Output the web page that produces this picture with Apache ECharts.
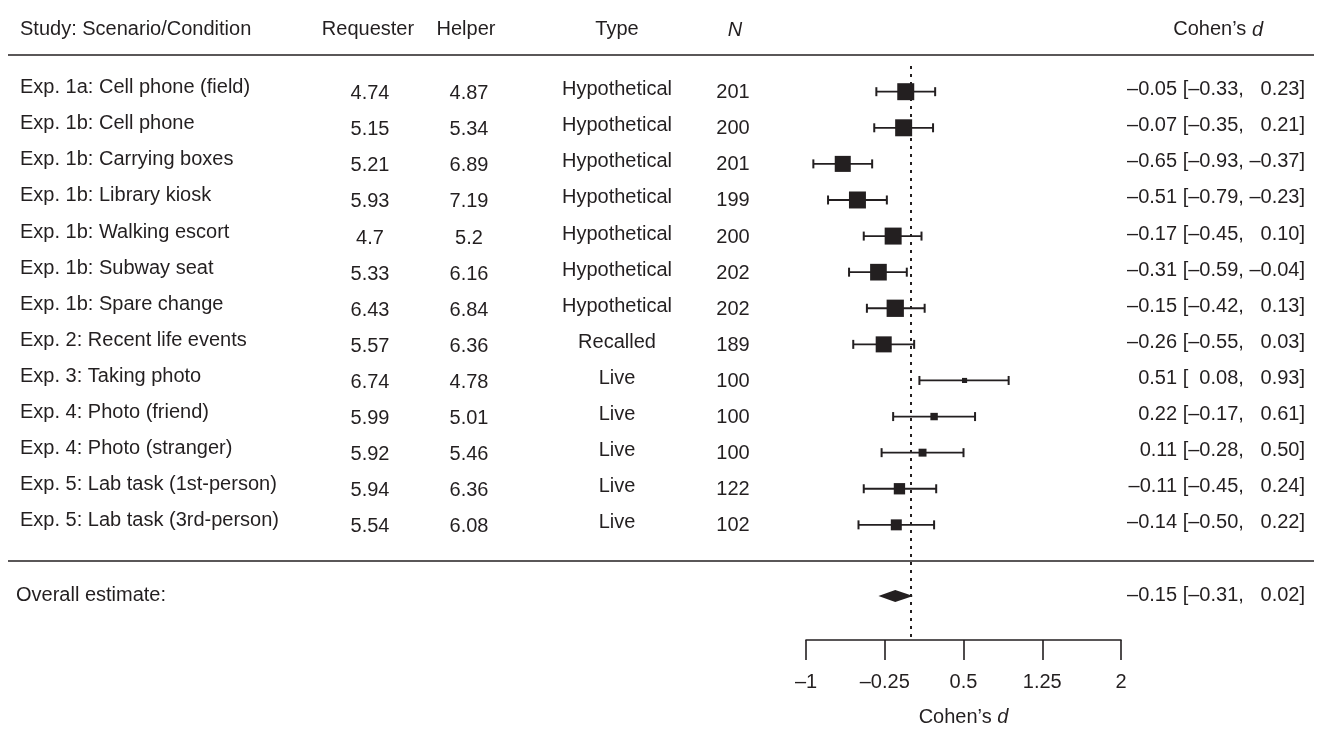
<!DOCTYPE html>
<html>
<head>
<meta charset="utf-8">
<script src="https://cdn.jsdelivr.net/npm/echarts@6/dist/echarts.min.js"></script>
<style>
  html, body { margin: 0; padding: 0; background: #fff; }
  #chart { width: 1322px; height: 732px; }
</style>
</head>
<body>
<div id="chart"></div>
<script>
  // table columns
  const studies = [
    'Exp. 1a: Cell phone (field)', 'Exp. 1b: Cell phone', 'Exp. 1b: Carrying boxes',
    'Exp. 1b: Library kiosk', 'Exp. 1b: Walking escort', 'Exp. 1b: Subway seat',
    'Exp. 1b: Spare change', 'Exp. 2: Recent life events', 'Exp. 3: Taking photo',
    'Exp. 4: Photo (friend)', 'Exp. 4: Photo (stranger)', 'Exp. 5: Lab task (1st-person)',
    'Exp. 5: Lab task (3rd-person)'
  ]
  const requester = [4.74, 5.15, 5.21, 5.93, 4.7, 5.33, 6.43, 5.57, 6.74, 5.99, 5.92, 5.94, 5.54]
  const helper = [4.87, 5.34, 6.89, 7.19, 5.2, 6.16, 6.84, 6.36, 4.78, 5.01, 5.46, 6.36, 6.08]
  const types = ['Hypothetical', 'Hypothetical', 'Hypothetical', 'Hypothetical', 'Hypothetical',
    'Hypothetical', 'Hypothetical', 'Recalled', 'Live', 'Live', 'Live', 'Live', 'Live']
  const ns = [201, 200, 201, 199, 200, 202, 202, 189, 100, 100, 100, 122, 102]

  // effect sizes
  const dEst = [-0.05, -0.07, -0.65, -0.51, -0.17, -0.31, -0.15, -0.26, 0.51, 0.22, 0.11, -0.11, -0.14]
  const dLo = [-0.33, -0.35, -0.93, -0.79, -0.45, -0.59, -0.42, -0.55, 0.08, -0.17, -0.28, -0.45, -0.50]
  const dHi = [0.23, 0.21, -0.37, -0.23, 0.10, -0.04, 0.13, 0.03, 0.93, 0.61, 0.50, 0.24, 0.22]
  // study weights (%), read from the square areas
  const weights = [11.0, 11.0, 9.8, 11.0, 11.0, 10.6, 11.4, 9.8, 1.0, 2.1, 2.4, 4.9, 4.6]
  const overall = [-0.15, -0.31, 0.02] // estimate, lower, upper
  const axisTicks = [-1, -0.25, 0.5, 1.25, 2]

  const FONT = '"Liberation Sans", Arial, sans-serif'
  const INK = '#231f20'
  const FS = 20

  // row layout (in row units on the y axes)
  const HEADER_ROW = -1.71
  const HEADER_LINE = -1.03
  const DIVIDER = 12.99
  const OVERALL_ROW = 13.97

  // column x positions (page pixels on the table grid)
  const COL = { study: 20, req: 370, helper: 469, type: 617, n: 733, d: 1305, dHead: 1263 }

  const minus = s => String(s).replace('-', '–')
  // positive numbers get an invisible dash so the columns line up
  const num = (v, pad) => (v < 0 ? '–' : (pad ? '{h|–}' : '')) + Math.abs(v).toFixed(2)
  const ciText = (est, lo, hi) => num(est, false) + ' [' + num(lo, true) + ', ' + num(hi, true) + ']'

  function textSeries(items, align, dy, extra) {
    return {
      type: 'scatter',
      xAxisIndex: 0,
      yAxisIndex: 0,
      symbolSize: 0,
      silent: true,
      clip: false,
      itemStyle: { opacity: 1 },
      data: items.map(it => ({ value: [it[0], it[1]], name: it[2] })),
      label: Object.assign({
        show: true,
        position: 'inside',
        align: align,
        verticalAlign: 'middle',
        offset: [0, dy],
        formatter: p => p.name,
        color: INK,
        opacity: 1,
        fontFamily: FONT,
        fontSize: FS,
        rich: { h: { color: 'rgba(0,0,0,0)', fontFamily: FONT, fontSize: FS } }
      }, extra || {})
    }
  }

  const rows = studies.map((s, i) => i)
  const rich = {
    a: { fontFamily: FONT, fontSize: FS, color: INK },
    b: { fontFamily: FONT, fontSize: FS, color: INK, fontStyle: 'italic' }
  }

  const chart = echarts.init(document.getElementById('chart'))
  chart.setOption({
    animation: false,
    backgroundColor: '#fff',
    grid: [
      { left: 0, right: 0, top: 1.45, bottom: 92 },
      { left: 806, right: 201, top: 1.45, bottom: 92 }
    ],
    xAxis: [
      { gridIndex: 0, type: 'value', min: 0, max: 1322, show: false },
      {
        gridIndex: 1, type: 'value', min: -1, max: 2,
        splitLine: { show: false },
        axisLine: { show: true, onZero: false, lineStyle: { color: INK, width: 1.6 } },
        axisTick: { show: true, length: 20, customValues: axisTicks, lineStyle: { color: INK, width: 1.6 } },
        axisLabel: {
          customValues: axisTicks, margin: 32, color: INK, fontFamily: FONT, fontSize: FS,
          formatter: v => minus(v)
        },
        name: '{a|Cohen’s }{b|d}',
        nameLocation: 'middle',
        nameGap: 67,
        nameTextStyle: { rich: rich }
      }
    ],
    yAxis: [
      { gridIndex: 0, type: 'value', min: -2.5, max: 15.19, inverse: true, show: false },
      { gridIndex: 1, type: 'value', min: -2.5, max: 15.19, inverse: true, show: false }
    ],
    series: [
      // header
      textSeries([[COL.study, HEADER_ROW, 'Study: Scenario/Condition']], 'left', 0),
      textSeries([[COL.req - 2, HEADER_ROW, 'Requester'], [COL.helper - 3, HEADER_ROW, 'Helper'],
        [COL.type, HEADER_ROW, 'Type']], 'center', 0),
      textSeries([[COL.n + 2, HEADER_ROW, 'N']], 'center', 0, { fontStyle: 'italic' }),
      textSeries([[COL.dHead, HEADER_ROW, '']], 'right', 0, {
        formatter: '{a|Cohen’s }{b|d}',
        rich: rich
      }),
      // table body
      textSeries(rows.map(i => [COL.study, i, studies[i]]), 'left', -4),
      textSeries(rows.map(i => [COL.req, i, String(requester[i])]), 'center', 2),
      textSeries(rows.map(i => [COL.helper, i, String(helper[i])]), 'center', 2),
      textSeries(rows.map(i => [COL.type, i, types[i]]), 'center', -2),
      textSeries(rows.map(i => [COL.n, i, String(ns[i])]), 'center', 1),
      textSeries(rows.map(i => [COL.d, i, ciText(dEst[i], dLo[i], dHi[i])]), 'right', -2),
      // overall row
      textSeries([[COL.study - 4, OVERALL_ROW, 'Overall estimate:']], 'left', 0),
      textSeries([[COL.d, OVERALL_ROW, ciText(overall[0], overall[1], overall[2])]], 'right', 0),
      // rules
      {
        type: 'line', xAxisIndex: 0, yAxisIndex: 0, data: [], silent: true,
        markLine: {
          symbol: 'none', silent: true, label: { show: false },
          lineStyle: { color: INK, width: 1.6, type: 'solid' },
          data: [
            [{ coord: [8, HEADER_LINE] }, { coord: [1314, HEADER_LINE] }],
            [{ coord: [8, DIVIDER] }, { coord: [1314, DIVIDER] }]
          ]
        }
      },
      // zero line
      {
        type: 'line', xAxisIndex: 1, yAxisIndex: 1, silent: true, symbol: 'none', clip: false,
        lineStyle: { color: INK, width: 2, type: [3, 5] },
        data: [[0, -0.71], [0, 15.19]]
      },
      // study estimates with CIs
      {
        type: 'custom', xAxisIndex: 1, yAxisIndex: 1, silent: true, clip: false,
        data: rows.map(i => [dEst[i], i, dLo[i], dHi[i], weights[i]]),
        renderItem: (params, api) => {
          const y = api.coord([0, api.value(1)])[1]
          const xc = api.coord([api.value(0), 0])[0]
          const xl = api.coord([api.value(2), 0])[0]
          const xh = api.coord([api.value(3), 0])[0]
          const side = 5.12 * Math.sqrt(api.value(4))
          const st = { stroke: INK, lineWidth: 1.8 }
          return {
            type: 'group',
            children: [
              { type: 'line', shape: { x1: xl, y1: y, x2: xh, y2: y }, style: st },
              { type: 'line', shape: { x1: xl, y1: y - 4.5, x2: xl, y2: y + 4.5 }, style: { stroke: INK, lineWidth: 2 } },
              { type: 'line', shape: { x1: xh, y1: y - 4.5, x2: xh, y2: y + 4.5 }, style: { stroke: INK, lineWidth: 2 } },
              { type: 'rect', shape: { x: xc - side / 2, y: y - side / 2, width: side, height: side }, style: { fill: INK } }
            ]
          }
        }
      },
      // overall diamond
      {
        type: 'custom', xAxisIndex: 1, yAxisIndex: 1, silent: true, clip: false,
        data: [[overall[0], OVERALL_ROW, overall[1], overall[2]]],
        renderItem: (params, api) => {
          const y = api.coord([0, api.value(1)])[1]
          const xc = api.coord([api.value(0), 0])[0]
          const xl = api.coord([api.value(2), 0])[0]
          const xh = api.coord([api.value(3), 0])[0]
          return {
            type: 'polygon',
            shape: { points: [[xl, y], [xc, y - 6], [xh, y], [xc, y + 6]] },
            style: { fill: INK }
          }
        }
      }
    ]
  })
</script>
</body>
</html>
